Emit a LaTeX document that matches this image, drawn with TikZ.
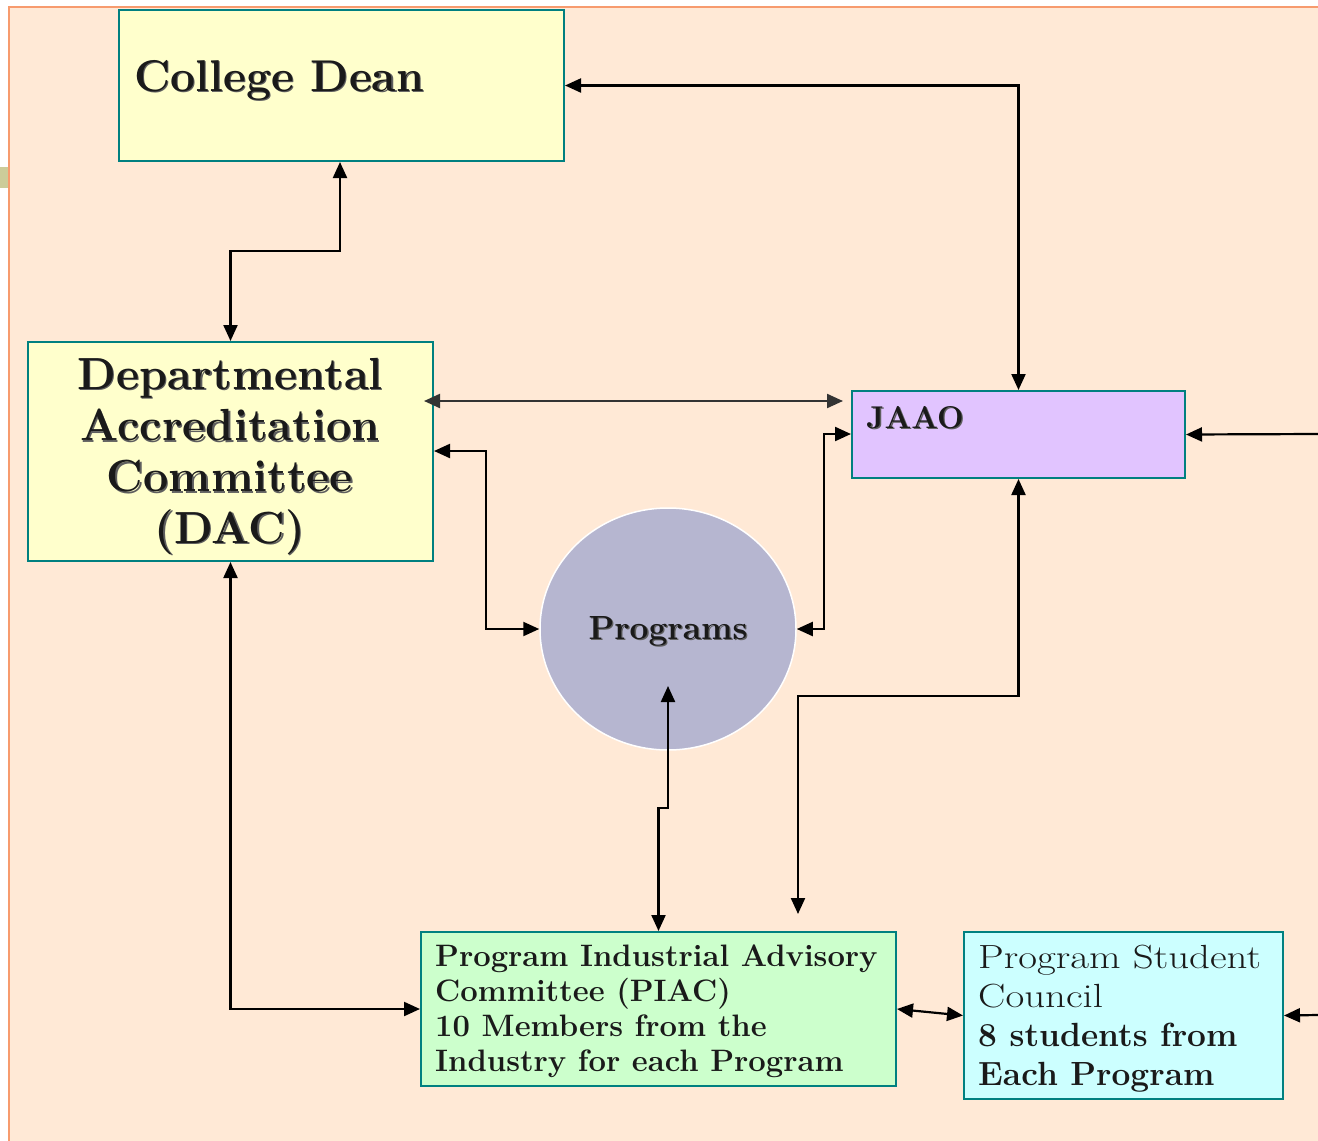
\documentclass[tikz,border=0pt]{standalone}
\usepackage{graphicx}
\usetikzlibrary{arrows.meta,shapes.geometric,calc}
\definecolor{bgpeach}{HTML}{FFE9D6}
\definecolor{bord}{HTML}{F79B6E}
\definecolor{tanc}{HTML}{CCCC99}
\definecolor{tealc}{HTML}{008080}
\definecolor{ylw}{HTML}{FFFFCC}
\definecolor{lav}{HTML}{E1C4FF}
\definecolor{progc}{HTML}{B6B6D0}
\definecolor{grn}{HTML}{CCFFCC}
\definecolor{cyn}{HTML}{CCFFFF}
\definecolor{txt}{HTML}{1A1A1A}
\definecolor{shd}{HTML}{5E5E5E}
\newcommand{\shdw}[1]{\makebox[0pt][l]{\hspace{1.3pt}\raisebox{-1.3pt}{\color{shd}#1}}#1}
\newcommand{\widen}[1]{\scalebox{1.22}[1]{#1}}
\tikzset{
  boxst/.style={draw=tealc, line width=2pt, anchor=north west, inner sep=0pt},
  txtst/.style={text=txt, inner sep=0pt},
  conn/.style={line width=2.2pt, black, {Triangle[length=16pt,width=14pt]}-{Triangle[length=16pt,width=14pt]}},
  connr/.style={line width=2.2pt, black, -{Triangle[length=16pt,width=14pt]}}
}
\begin{document}
\begin{tikzpicture}[x=1pt,y=-1pt]
\useasboundingbox (0,0) rectangle (1318,1141);
\fill[white] (0,0) rectangle (1318,1141);
\fill[bgpeach] (9,7) rectangle (1330,1160);
\draw[bord, line width=2.5pt] (9,1160) -- (9,7) -- (1330,7);
\fill[tanc] (0,167) rectangle (8,188);

% boxes
\node[boxst, fill=ylw, minimum width=445pt, minimum height=151pt] (cd) at (118,9) {};
\node[boxst, fill=ylw, minimum width=405pt, minimum height=219pt] (dac) at (27,341) {};
\node[boxst, fill=lav, minimum width=333pt, minimum height=87pt] (jaao) at (851,390) {};
\node[draw=white, line width=1.5pt, fill=progc, ellipse, minimum width=256pt, minimum height=242pt, inner sep=0pt] (prog) at (668,629) {};
\node[boxst, fill=grn, minimum width=475pt, minimum height=154pt] (piac) at (420,931) {};
\node[boxst, fill=cyn, minimum width=319pt, minimum height=167pt] (psc) at (963,931) {};

% texts
\node[txtst, anchor=west, font=\fontsize{44.5}{50}\selectfont\bfseries] (cdt) at (134,81) {\shdw{College Dean}};
\node[txtst, align=center, font=\fontsize{45}{51.2}\selectfont\bfseries] (dact) at (230,457) {\shdw{Departmental}\\\shdw{Accreditation}\\\shdw{Committee}\\\shdw{(DAC)}};
\node[txtst, anchor=west, font=\fontsize{31.5}{35}\selectfont\bfseries] (jaaot) at (866,418) {\shdw{JAAO}};
\node[txtst, font=\fontsize{33.5}{38}\selectfont\bfseries] (progt) at (668,632) {\shdw{Programs}};
\node[txtst, anchor=north west, align=left, font=\fontsize{31}{35}\selectfont\bfseries] (piact) at (435,945) {Program Industrial Advisory\\Committee (PIAC)\\10 Members from the\\Industry for each Program};
\node[txtst, anchor=north west, align=left, font=\fontsize{33.5}{38.8}\selectfont] (psct) at (978,945) {\widen{Program Student}\\\widen{Council}\\\textbf{8 students from}\\\textbf{Each Program}};

% free ends
\coordinate (e6) at (798,914);
\coordinate (pin) at (668,686);
\coordinate (r1) at (1318,434);
\coordinate (r2) at (1318,1015);

% connectors
\draw[conn] (cd.east) -| (jaao.north);
\draw[conn] (340,0 |- cd.south) -- (340,251) -| (dac.north);
\draw[conn, draw=black!80, shorten <=-10pt, shorten >=8pt] (dac.east |- 0,401) -- (jaao.west |- 0,401);
\draw[conn] (dac.east |- 0,451) -- (486,451) |- (prog.west);
\draw[conn] (jaao.west |- 0,434) -- (824,434) |- (prog.east);
\draw[conn] (jaao.south) -- (jaao.south |- 0,696) -| (e6);
\draw[conn] (pin) -- (668,808) -| (piac.north);
\draw[conn] (dac.south) |- (piac.west);
\draw[conn] (piac.east) -- (psc.west);
\draw[connr] (r1) -- (jaao.east);
\draw[connr] (r2) -- (psc.east);
\end{tikzpicture}
\end{document}
